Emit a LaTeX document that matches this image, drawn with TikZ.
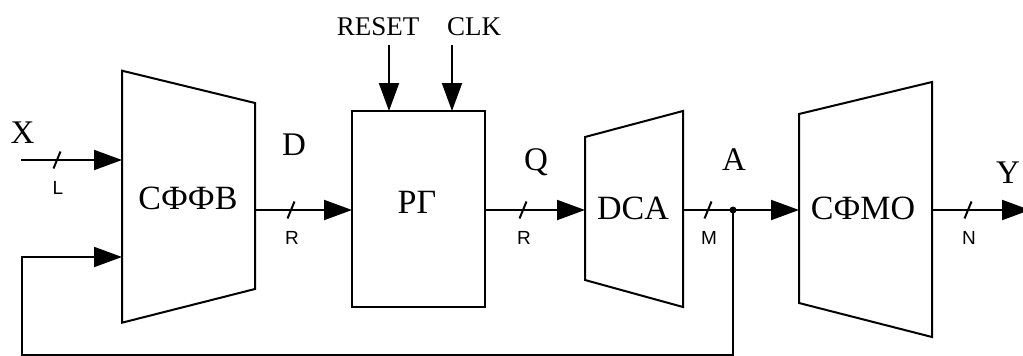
\documentclass[tikz,border=0pt]{standalone}
\usepackage{fontspec}
\setmainfont{Liberation Serif}
\setsansfont{Liberation Sans}
\usepackage{tikz}
\usetikzlibrary{arrows.meta}

\tikzset{
  wire/.style={line width=2pt, -{Triangle[length=28pt,width=20pt]}},
  outline/.style={line width=2pt, line join=miter},
  blocktext/.style={font=\fontsize{34}{38}\selectfont, anchor=base},
  sig/.style={font=\fontsize{33}{37}\selectfont, anchor=base},
  ctrl/.style={font=\fontsize{27}{31}\selectfont, anchor=base},
  widthlbl/.style={font=\sffamily\fontsize{19}{22}\selectfont, anchor=base},
}

\begin{document}
\begin{tikzpicture}[x=1pt, y=-1pt]
\useasboundingbox (0,0) rectangle (1023,356);

% blocks
\draw[outline] (122,70.7) -- (255,103) -- (255,289) -- (122,322.7) -- cycle;
\draw[outline] (352,111) rectangle (485,307);
\draw[outline] (585,137) -- (683,111) -- (683,307) -- (585,280) -- cycle;
\draw[outline] (799,114) -- (932,82) -- (932,337) -- (799,303) -- cycle;

\node[blocktext] (sffv) at (188,209) {СФФВ};
\node[blocktext] (rg) at (417,213) {РГ};
\node[blocktext] (dca) at (633,219) {DCA};
\node[blocktext] (sfmo) at (863,219) {СФМО};

% ports
\coordinate (xin) at (21,160);
\coordinate (sffv-in1) at (122,160);
\coordinate (sffv-in2) at (122,257);
\coordinate (sffv-out) at (255,210);
\coordinate (rg-in) at (352,210);
\coordinate (rg-out) at (485,210);
\coordinate (rg-rst) at (389,111);
\coordinate (rg-clk) at (452,111);
\coordinate (rst-src) at (389,45);
\coordinate (clk-src) at (452,45);
\coordinate (dca-in) at (585,210);
\coordinate (dca-out) at (683,210);
\coordinate (junc) at (733,210);
\coordinate (fb-corner) at (22,355);
\coordinate (sfmo-in) at (799,210);
\coordinate (sfmo-out) at (932,210);
\coordinate (yout) at (1030,210);

% connectors
\draw[wire] (xin) -- (sffv-in1);
\draw[wire] (sffv-out) -- (rg-in);
\draw[wire] (rg-out) -- (dca-in);
\draw[wire] (dca-out) -- (sfmo-in);
\draw[wire] (sfmo-out) -- (yout);
\draw[wire] (rst-src) -- (rg-rst);
\draw[wire] (clk-src) -- (rg-clk);
\draw[wire] (junc) |- (fb-corner) |- (sffv-in2);
\fill (junc) circle (3.5);

% bus widths
\foreach \x/\y/\w/\nm in {57/160/L/wl, 291/210/R/wr1, 523/210/R/wr2, 708/210/M/wm, 968/210/N/wn} {
  \draw[line width=2pt] (\x-3.5,\y+8.5) -- (\x+3.5,\y-8.5);
  \node[widthlbl] (\nm) at (\x+1,\y+34) {\w};
}

% signal names
\node[sig] (xlbl) at (22.5,143) {X};
\node[sig] (dlbl) at (294,155) {D};
\node[sig] (qlbl) at (536,170) {Q};
\node[sig] (albl) at (734,170) {A};
\node[sig] (ylbl) at (1008,183) {Y};
\node[ctrl] (rstlbl) at (378,35) {RESET};
\node[ctrl] (clklbl) at (474,35) {CLK};
\end{tikzpicture}
\end{document}
